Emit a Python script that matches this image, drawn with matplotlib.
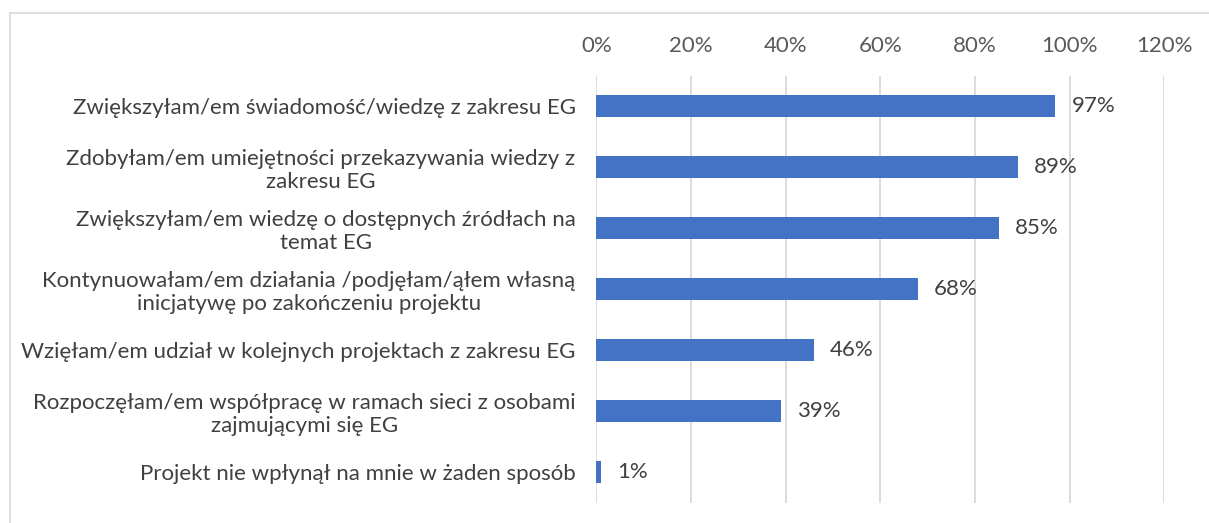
import matplotlib
matplotlib.use("Agg")
import matplotlib.pyplot as plt
from matplotlib.ticker import FuncFormatter
from matplotlib.lines import Line2D

categories = [
    "Zwiększyłam/em świadomość/wiedzę z zakresu EG",
    "Zdobyłam/em umiejętności przekazywania wiedzy z\nzakresu EG",
    "Zwiększyłam/em wiedzę o dostępnych źródłach na\ntemat EG",
    "Kontynuowałam/em działania /podjęłam/ąłem własną\ninicjatywę po zakończeniu projektu",
    "Wzięłam/em udział w kolejnych projektach z zakresu EG",
    "Rozpoczęłam/em współpracę w ramach sieci z osobami\nzajmującymi się EG",
    "Projekt nie wpłynął na mnie w żaden sposób",
]
values = [0.97, 0.89, 0.85, 0.68, 0.46, 0.39, 0.01]
xticks = [0, 0.2, 0.4, 0.6, 0.8, 1.0, 1.2]

plt.rcParams['font.family'] = ['Lato', 'DejaVu Sans']

W, H = 1209, 523
FS = 16
fig = plt.figure(figsize=(W / 100, H / 100), dpi=100)
ax = fig.add_axes([596.4 / W, 1 - 502.5 / H, (1164.3 - 596.4) / W, (502.5 - 75.5) / H])

y = list(range(len(categories)))
ax.barh(y, values, height=0.35, color="#4472C4", zorder=3)
ax.set_ylim(len(categories) - 0.5, -0.5)
ax.set_xlim(0, 1.2)
ax.set_xticks(xticks)
ax.xaxis.set_major_formatter(FuncFormatter(lambda v, p: f"{v*100:.0f}%"))
ax.xaxis.tick_top()
ax.tick_params(axis='x', length=0, pad=14, labelsize=FS, labelcolor="#595959")
ax.tick_params(axis='y', length=0, pad=15)
ax.set_yticks(y)
ax.set_yticklabels(categories, fontsize=FS, color="#404040", ha='right',
                   multialignment='center', linespacing=1.2)
ax.grid(axis='x', color="#d9d9d9", linewidth=1.3, zorder=0)
for s in ax.spines.values():
    s.set_visible(False)

for yi, v in zip(y, values):
    ax.annotate(f"{v*100:.0f}%", (v, yi), xytext=(11.5, 0), textcoords='offset points',
                va='center', ha='left', fontsize=FS, color="#404040")

# outer chart frame (left and top visible)
fig.add_artist(Line2D([9.5 / W, 9.5 / W], [0, 1 - 13 / H], transform=fig.transFigure, color="#d9d9d9", lw=1.2))
fig.add_artist(Line2D([9.5 / W, 1], [1 - 13 / H, 1 - 13 / H], transform=fig.transFigure, color="#d9d9d9", lw=1.2))

fig.savefig("out.png", dpi=100)
